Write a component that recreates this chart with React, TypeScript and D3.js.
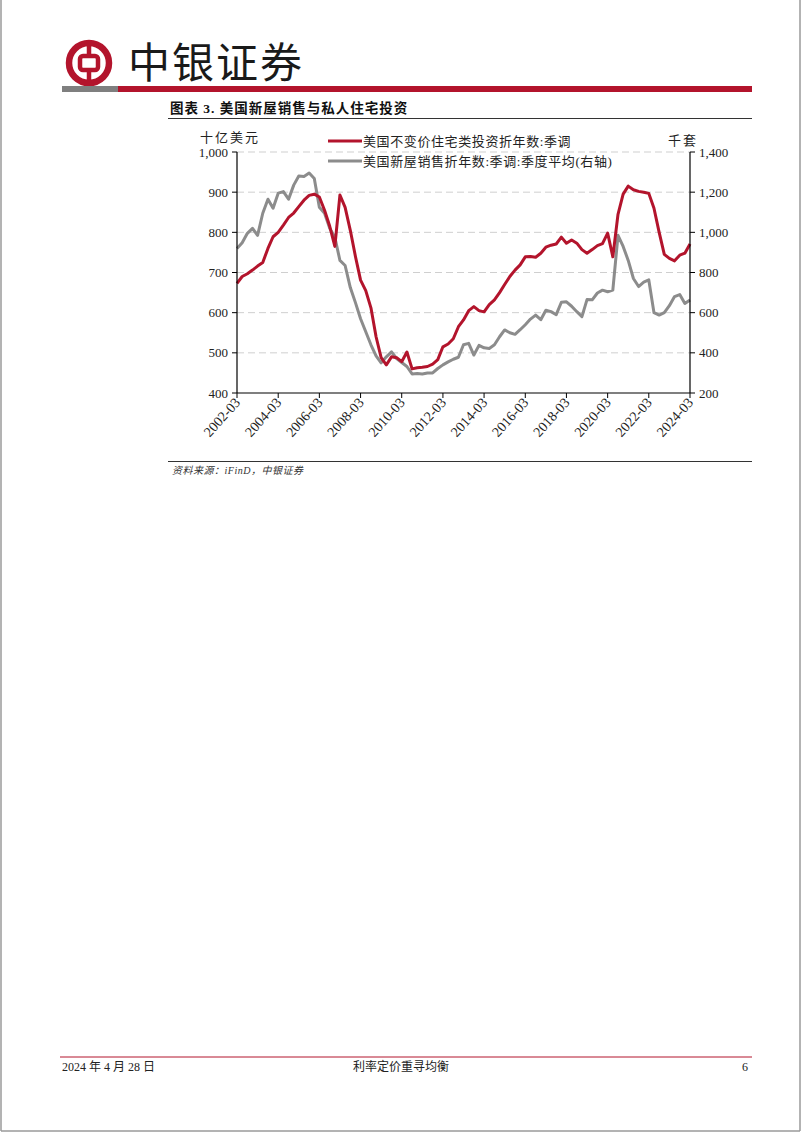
import React from "react";
import * as d3 from "d3";

// Quarterly data, 2002-03 .. 2024-03
const startYear = 2002;
const startMonth = 2; // March (0-based)

const residentialInvestment = [
  673, 690, 697, 706, 716, 725, 760, 789, 800, 818,
  837, 848, 864, 880, 892, 895, 888, 855, 815, 765,
  893, 862, 805, 740, 681, 655, 612, 540, 488, 470,
  490, 488, 478, 502, 460, 463, 464, 466, 472, 483,
  515, 522, 535, 565, 582, 605, 615, 605, 602, 620,
  632, 650, 670, 690, 706, 719, 739, 740, 738, 748,
  763, 768, 771, 788, 773, 781, 773, 757, 748, 757,
  767, 772, 798, 739, 845, 895, 915, 906, 902, 900,
  897, 860, 800, 745, 735, 729, 743, 748, 771,
];

const newHomeSales = [
  920, 948, 995, 1020, 985, 1095, 1165, 1120, 1195, 1203,
  1165, 1235, 1280, 1278, 1295, 1268, 1125, 1095, 1020, 975,
  860, 835, 725, 650, 570, 505, 440, 385, 350, 380,
  405, 372, 352, 332, 295, 297, 295, 300, 300, 322,
  340, 355, 368, 378, 440, 447, 389, 437, 425, 422,
  440, 480, 514, 500, 492, 515, 540, 568, 588, 565,
  612, 605, 590, 652, 654, 632, 605, 580, 665, 664,
  698, 712, 704, 712, 985, 930, 860, 770, 730, 752,
  763, 600, 588, 600, 635, 680, 690, 646, 663,
];

const leftTicks = [400, 500, 600, 700, 800, 900, 1000];
const rightTicks = [200, 400, 600, 800, 1000, 1200, 1400];
const xTickYears = [2002, 2004, 2006, 2008, 2010, 2012, 2014, 2016, 2018, 2020, 2022, 2024];

const title = "图表 3. 美国新屋销售与私人住宅投资";
const leftUnit = "十亿美元";
const rightUnit = "千套";
const seriesNames = ["美国不变价住宅类投资折年数:季调", "美国新屋销售折年数:季调:季度平均(右轴)"];
const sourceText = "资料来源：iFinD，中银证券";
const footerLeft = "2024 年 4 月 28 日";
const footerCenter = "利率定价重寻均衡";
const footerRight = "6";

const RED = "#B3142C";
const GRAY = "#8C8C8C";
const SERIF = "'Liberation Serif', 'Noto Sans CJK SC', serif";
const CJK = "'Liberation Serif', 'Noto Sans CJK SC', sans-serif";

export default function App() {
  const W = 802, H = 1133;
  const plot = { left: 237, right: 690, top: 152, bottom: 393 };

  const dates = residentialInvestment.map((_, i) => new Date(startYear, startMonth + i * 3, 1));
  const x = d3.scaleTime()
    .domain([new Date(startYear, startMonth, 1), new Date(2024, 2, 1)])
    .range([plot.left, plot.right]);
  const yL = d3.scaleLinear().domain([400, 1000]).range([plot.bottom, plot.top]);
  const yR = d3.scaleLinear().domain([200, 1400]).range([plot.bottom, plot.top]);

  const redLine = d3.line<number>().x((_, i) => x(dates[i])).y((d) => yL(d))(residentialInvestment) || "";
  const grayLine = d3.line<number>().x((_, i) => x(dates[i])).y((d) => yR(d))(newHomeSales) || "";

  const fmt = d3.format(",");

  return (
    <svg width={W} height={H} style={{ position: "absolute", left: 0, top: 0, background: "#fff" }}>
      {/* page border */}
      <line x1={1} y1={0} x2={1} y2={1131} stroke="#9a9a9a" strokeWidth={1.5} />
      <line x1={800} y1={0} x2={800} y2={1131} stroke="#9a9a9a" strokeWidth={1.5} />
      <line x1={1} y1={1131} x2={800} y2={1131} stroke="#9a9a9a" strokeWidth={1.5} />

      {/* logo */}
      <g>
        <circle cx={89} cy={63} r={20} fill="none" stroke={RED} strokeWidth={6.5} />
        <rect x={80} y={56} width={18} height={14} rx={3} fill="none" stroke={RED} strokeWidth={4.5} />
        <line x1={89} y1={43} x2={89} y2={56} stroke={RED} strokeWidth={4.5} />
        <line x1={89} y1={70} x2={89} y2={83} stroke={RED} strokeWidth={4.5} />
        <text x={128} y={78} fontFamily="'Noto Sans CJK SC', sans-serif" fontSize={42} fontWeight={400} fill="#1a1a1a" letterSpacing={2}>中银证券</text>
      </g>
      <rect x={62} y={86} width={56} height={6} fill="#7f7f7f" />
      <rect x={118} y={86} width={634} height={6} fill={RED} />

      {/* title */}
      <text x={170} y={113} fontFamily={CJK} fontSize={13.5} fontWeight={700} fill="#111" letterSpacing={1}>{title}</text>
      <line x1={168} y1={118.5} x2={752} y2={118.5} stroke="#333" strokeWidth={1} />

      {/* grid */}
      {leftTicks.filter((t) => t > 400).map((t) => (
        <line key={"g" + t} x1={plot.left} x2={plot.right} y1={yL(t)} y2={yL(t)} stroke="#cfcfcf" strokeWidth={1} strokeDasharray="7,4" />
      ))}

      {/* series */}
      <path d={grayLine} fill="none" stroke={GRAY} strokeWidth={3} strokeLinejoin="round" />
      <path d={redLine} fill="none" stroke={RED} strokeWidth={3} strokeLinejoin="round" />

      {/* axes */}
      <line x1={plot.left} x2={plot.left} y1={plot.top} y2={plot.bottom} stroke="#000" strokeWidth={1.2} />
      <line x1={plot.right} x2={plot.right} y1={plot.top} y2={plot.bottom} stroke="#000" strokeWidth={1.2} />
      <line x1={plot.left} x2={plot.right} y1={plot.bottom} y2={plot.bottom} stroke="#000" strokeWidth={1.2} />

      {leftTicks.map((t) => (
        <g key={"l" + t}>
          <line x1={plot.left - 5} x2={plot.left} y1={yL(t)} y2={yL(t)} stroke="#000" />
          <text x={plot.left - 9} y={yL(t) + 4.5} textAnchor="end" fontFamily={SERIF} fontSize={13} fill="#222">{fmt(t)}</text>
        </g>
      ))}
      {rightTicks.map((t) => (
        <g key={"r" + t}>
          <line x1={plot.right} x2={plot.right + 5} y1={yR(t)} y2={yR(t)} stroke="#000" />
          <text x={plot.right + 9} y={yR(t) + 4.5} textAnchor="start" fontFamily={SERIF} fontSize={13} fill="#222">{fmt(t)}</text>
        </g>
      ))}
      {xTickYears.map((yr) => {
        const xp = x(new Date(yr, 2, 1));
        return (
          <g key={"x" + yr}>
            <line x1={xp} x2={xp} y1={plot.bottom} y2={plot.bottom + 5} stroke="#000" />
            <text
              transform={`translate(${xp + 4},${plot.bottom + 10}) rotate(-48)`}
              textAnchor="end"
              fontFamily={SERIF}
              fontSize={14}
              fill="#222"
            >{`${yr}-03`}</text>
          </g>
        );
      })}

      {/* units */}
      <text x={200} y={142} fontFamily={CJK} fontSize={13} fill="#222" letterSpacing={2}>{leftUnit}</text>
      <text x={668} y={145} fontFamily={CJK} fontSize={13} fill="#222" letterSpacing={2}>{rightUnit}</text>

      {/* legend */}
      <line x1={328} x2={362} y1={141} y2={141} stroke={RED} strokeWidth={3} />
      <text x={363} y={145.5} fontFamily={CJK} fontSize={13} fill="#222" letterSpacing={0.6}>{seriesNames[0]}</text>
      <line x1={328} x2={362} y1={161} y2={161} stroke={GRAY} strokeWidth={3} />
      <text x={363} y={165.5} fontFamily={CJK} fontSize={13} fill="#222" letterSpacing={0.6}>{seriesNames[1]}</text>

      {/* source */}
      <line x1={168} y1={461.5} x2={752} y2={461.5} stroke="#333" strokeWidth={1} />
      <text x={172} y={474} fontFamily={CJK} fontSize={10} fontStyle="italic" fill="#333" letterSpacing={0.5}>{sourceText}</text>

      {/* footer */}
      <line x1={60} y1={1057} x2={752} y2={1057} stroke={RED} strokeWidth={1} />
      <text x={62} y={1071} fontFamily={SERIF} fontSize={12} fill="#222">{footerLeft}</text>
      <text x={401} y={1071} textAnchor="middle" fontFamily={CJK} fontSize={12} fill="#222">{footerCenter}</text>
      <text x={748} y={1071} textAnchor="end" fontFamily={SERIF} fontSize={12} fill="#222">{footerRight}</text>
    </svg>
  );
}
